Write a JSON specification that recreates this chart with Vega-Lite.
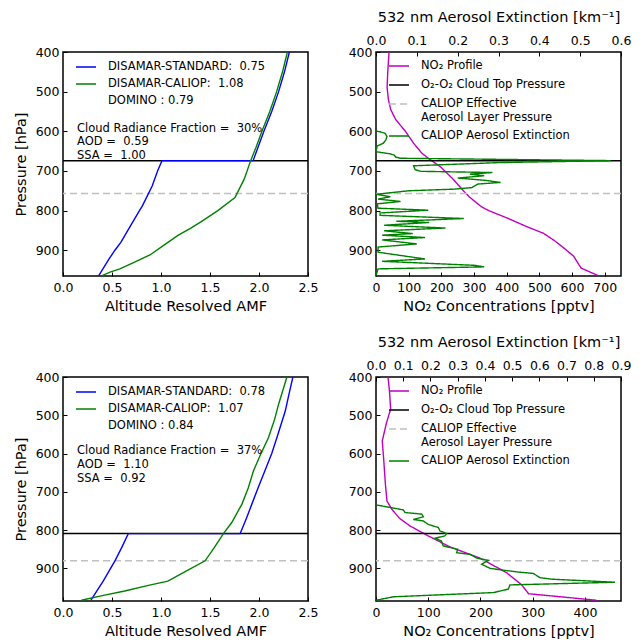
{
  "$schema": "https://vega.github.io/schema/vega-lite/v6.json",
  "background": "white",
  "padding": {"left": 12, "top": 8, "right": 5, "bottom": 5},
  "config": {
    "font": "DejaVu Sans",
    "view": {"stroke": "black", "strokeWidth": 1.5},
    "axis": {"domain": false, "grid": false, "ticks": true, "tickColor": "black", "tickSize": -4, "tickWidth": 1, "labelColor": "black", "labelFontSize": 12.5, "titleFontSize": 14.5, "titleFontWeight": "normal", "titleColor": "black", "labelFlush": false, "labelOverlap": false},
    "axisX": {"labelPadding": 9, "titlePadding": 6},
    "axisY": {"labelPadding": 8, "titlePadding": 7},
    "legend": {"labelFontSize": 11.5, "labelColor": "black", "symbolType": "M-1,0H3", "symbolSize": 100, "symbolStrokeWidth": 1.5, "labelOffset": 21, "rowPadding": 5, "padding": 0, "labelLimit": 300}
  },
  "datasets": {
    "tl": [
      {"series": "DISAMAR-STANDARD: \u00a00.75", "p": 964, "amf": 0.365},
      {"series": "DISAMAR-STANDARD: \u00a00.75", "p": 922, "amf": 0.47},
      {"series": "DISAMAR-STANDARD: \u00a00.75", "p": 900, "amf": 0.53},
      {"series": "DISAMAR-STANDARD: \u00a00.75", "p": 880, "amf": 0.59},
      {"series": "DISAMAR-STANDARD: \u00a00.75", "p": 838, "amf": 0.69},
      {"series": "DISAMAR-STANDARD: \u00a00.75", "p": 800, "amf": 0.78},
      {"series": "DISAMAR-STANDARD: \u00a00.75", "p": 788, "amf": 0.81},
      {"series": "DISAMAR-STANDARD: \u00a00.75", "p": 738, "amf": 0.91},
      {"series": "DISAMAR-STANDARD: \u00a00.75", "p": 700, "amf": 0.965},
      {"series": "DISAMAR-STANDARD: \u00a00.75", "p": 674, "amf": 1.01},
      {"series": "DISAMAR-STANDARD: \u00a00.75", "p": 674, "amf": 1.94},
      {"series": "DISAMAR-STANDARD: \u00a00.75", "p": 640, "amf": 1.99},
      {"series": "DISAMAR-STANDARD: \u00a00.75", "p": 600, "amf": 2.05},
      {"series": "DISAMAR-STANDARD: \u00a00.75", "p": 550, "amf": 2.13},
      {"series": "DISAMAR-STANDARD: \u00a00.75", "p": 500, "amf": 2.2},
      {"series": "DISAMAR-STANDARD: \u00a00.75", "p": 450, "amf": 2.26},
      {"series": "DISAMAR-STANDARD: \u00a00.75", "p": 400, "amf": 2.31},
      {"series": "DISAMAR-CALIOP: \u00a01.08", "p": 964, "amf": 0.4},
      {"series": "DISAMAR-CALIOP: \u00a01.08", "p": 955, "amf": 0.48},
      {"series": "DISAMAR-CALIOP: \u00a01.08", "p": 947, "amf": 0.58},
      {"series": "DISAMAR-CALIOP: \u00a01.08", "p": 930, "amf": 0.73},
      {"series": "DISAMAR-CALIOP: \u00a01.08", "p": 912, "amf": 0.887},
      {"series": "DISAMAR-CALIOP: \u00a01.08", "p": 887, "amf": 1.03},
      {"series": "DISAMAR-CALIOP: \u00a01.08", "p": 862, "amf": 1.177},
      {"series": "DISAMAR-CALIOP: \u00a01.08", "p": 845, "amf": 1.3},
      {"series": "DISAMAR-CALIOP: \u00a01.08", "p": 827, "amf": 1.415},
      {"series": "DISAMAR-CALIOP: \u00a01.08", "p": 800, "amf": 1.58},
      {"series": "DISAMAR-CALIOP: \u00a01.08", "p": 767, "amf": 1.755},
      {"series": "DISAMAR-CALIOP: \u00a01.08", "p": 720, "amf": 1.85},
      {"series": "DISAMAR-CALIOP: \u00a01.08", "p": 674, "amf": 1.915},
      {"series": "DISAMAR-CALIOP: \u00a01.08", "p": 640, "amf": 1.97},
      {"series": "DISAMAR-CALIOP: \u00a01.08", "p": 600, "amf": 2.03},
      {"series": "DISAMAR-CALIOP: \u00a01.08", "p": 550, "amf": 2.11},
      {"series": "DISAMAR-CALIOP: \u00a01.08", "p": 500, "amf": 2.18},
      {"series": "DISAMAR-CALIOP: \u00a01.08", "p": 450, "amf": 2.24},
      {"series": "DISAMAR-CALIOP: \u00a01.08", "p": 400, "amf": 2.29}
    ],
    "bl": [
      {"series": "DISAMAR-STANDARD: \u00a00.78", "p": 983, "amf": 0.285},
      {"series": "DISAMAR-STANDARD: \u00a00.78", "p": 933, "amf": 0.41},
      {"series": "DISAMAR-STANDARD: \u00a00.78", "p": 880, "amf": 0.53},
      {"series": "DISAMAR-STANDARD: \u00a00.78", "p": 845, "amf": 0.6},
      {"series": "DISAMAR-STANDARD: \u00a00.78", "p": 809, "amf": 0.666},
      {"series": "DISAMAR-STANDARD: \u00a00.78", "p": 809, "amf": 1.808},
      {"series": "DISAMAR-STANDARD: \u00a00.78", "p": 770, "amf": 1.87},
      {"series": "DISAMAR-STANDARD: \u00a00.78", "p": 732, "amf": 1.927},
      {"series": "DISAMAR-STANDARD: \u00a00.78", "p": 690, "amf": 1.99},
      {"series": "DISAMAR-STANDARD: \u00a00.78", "p": 654, "amf": 2.046},
      {"series": "DISAMAR-STANDARD: \u00a00.78", "p": 600, "amf": 2.13},
      {"series": "DISAMAR-STANDARD: \u00a00.78", "p": 558, "amf": 2.183},
      {"series": "DISAMAR-STANDARD: \u00a00.78", "p": 489, "amf": 2.268},
      {"series": "DISAMAR-STANDARD: \u00a00.78", "p": 440, "amf": 2.31},
      {"series": "DISAMAR-STANDARD: \u00a00.78", "p": 400, "amf": 2.346},
      {"series": "DISAMAR-CALIOP: \u00a01.07", "p": 983, "amf": 0.188},
      {"series": "DISAMAR-CALIOP: \u00a01.07", "p": 971, "amf": 0.4},
      {"series": "DISAMAR-CALIOP: \u00a01.07", "p": 959, "amf": 0.63},
      {"series": "DISAMAR-CALIOP: \u00a01.07", "p": 945, "amf": 0.86},
      {"series": "DISAMAR-CALIOP: \u00a01.07", "p": 933, "amf": 1.07},
      {"series": "DISAMAR-CALIOP: \u00a01.07", "p": 905, "amf": 1.27},
      {"series": "DISAMAR-CALIOP: \u00a01.07", "p": 880, "amf": 1.45},
      {"series": "DISAMAR-CALIOP: \u00a01.07", "p": 845, "amf": 1.545},
      {"series": "DISAMAR-CALIOP: \u00a01.07", "p": 809, "amf": 1.637},
      {"series": "DISAMAR-CALIOP: \u00a01.07", "p": 780, "amf": 1.722},
      {"series": "DISAMAR-CALIOP: \u00a01.07", "p": 732, "amf": 1.826},
      {"series": "DISAMAR-CALIOP: \u00a01.07", "p": 690, "amf": 1.89},
      {"series": "DISAMAR-CALIOP: \u00a01.07", "p": 645, "amf": 1.944},
      {"series": "DISAMAR-CALIOP: \u00a01.07", "p": 600, "amf": 2.02},
      {"series": "DISAMAR-CALIOP: \u00a01.07", "p": 558, "amf": 2.097},
      {"series": "DISAMAR-CALIOP: \u00a01.07", "p": 510, "amf": 2.16},
      {"series": "DISAMAR-CALIOP: \u00a01.07", "p": 471, "amf": 2.2},
      {"series": "DISAMAR-CALIOP: \u00a01.07", "p": 400, "amf": 2.285}
    ],
    "tr_no2": [
      {"series": "NO₂ Profile", "p": 400, "no2": 40}, {"series": "NO₂ Profile", "p": 450, "no2": 36},
      {"series": "NO₂ Profile", "p": 490, "no2": 34}, {"series": "NO₂ Profile", "p": 520, "no2": 38},
      {"series": "NO₂ Profile", "p": 545, "no2": 45}, {"series": "NO₂ Profile", "p": 570, "no2": 60},
      {"series": "NO₂ Profile", "p": 600, "no2": 90}, {"series": "NO₂ Profile", "p": 630, "no2": 115},
      {"series": "NO₂ Profile", "p": 655, "no2": 140}, {"series": "NO₂ Profile", "p": 670, "no2": 163},
      {"series": "NO₂ Profile", "p": 690, "no2": 198}, {"series": "NO₂ Profile", "p": 720, "no2": 235},
      {"series": "NO₂ Profile", "p": 745, "no2": 262}, {"series": "NO₂ Profile", "p": 765, "no2": 285},
      {"series": "NO₂ Profile", "p": 790, "no2": 322}, {"series": "NO₂ Profile", "p": 800, "no2": 345},
      {"series": "NO₂ Profile", "p": 820, "no2": 405}, {"series": "NO₂ Profile", "p": 840, "no2": 460},
      {"series": "NO₂ Profile", "p": 857, "no2": 512}, {"series": "NO₂ Profile", "p": 875, "no2": 545},
      {"series": "NO₂ Profile", "p": 893, "no2": 573}, {"series": "NO₂ Profile", "p": 915, "no2": 605},
      {"series": "NO₂ Profile", "p": 935, "no2": 620}, {"series": "NO₂ Profile", "p": 945, "no2": 628},
      {"series": "NO₂ Profile", "p": 964, "no2": 680}
    ],
    "tr_ext": [
      {"p": 599, "ext": 0}, {"p": 605, "ext": 0.022}, {"p": 613, "ext": 0.027}, {"p": 622, "ext": 0.024},
      {"p": 630, "ext": 0.018}, {"p": 637, "ext": 0.003}, {"p": 650, "ext": 0}, {"p": 652, "ext": 0.003},
      {"p": 657, "ext": 0.035}, {"p": 660, "ext": 0.045}, {"p": 665, "ext": 0.048}, {"p": 668, "ext": 0.06},
      {"p": 674, "ext": 0.575}, {"p": 679, "ext": 0.3}, {"p": 687, "ext": 0.092}, {"p": 697, "ext": 0.096},
      {"p": 701, "ext": 0.11}, {"p": 704, "ext": 0.285}, {"p": 708, "ext": 0.23}, {"p": 712, "ext": 0.265},
      {"p": 718, "ext": 0.2}, {"p": 724, "ext": 0.27}, {"p": 729, "ext": 0.305}, {"p": 733, "ext": 0.25},
      {"p": 742, "ext": 0.235}, {"p": 746, "ext": 0.19}, {"p": 750, "ext": 0.08}, {"p": 759, "ext": 0},
      {"p": 765, "ext": 0.035}, {"p": 771, "ext": 0.005}, {"p": 777, "ext": 0.06}, {"p": 783, "ext": 0.003},
      {"p": 794, "ext": 0.005}, {"p": 799, "ext": 0.128}, {"p": 806, "ext": 0.01}, {"p": 812, "ext": 0.01},
      {"p": 820, "ext": 0.215}, {"p": 827, "ext": 0.05}, {"p": 830, "ext": 0.13}, {"p": 837, "ext": 0.02},
      {"p": 844, "ext": 0.17}, {"p": 851, "ext": 0.02}, {"p": 858, "ext": 0.09}, {"p": 862, "ext": 0.015},
      {"p": 868, "ext": 0.12}, {"p": 874, "ext": 0.015}, {"p": 884, "ext": 0.1}, {"p": 892, "ext": 0.005},
      {"p": 905, "ext": 0.005}, {"p": 922, "ext": 0.12}, {"p": 928, "ext": 0.015}, {"p": 938, "ext": 0.24},
      {"p": 942, "ext": 0.265}, {"p": 947, "ext": 0.005}, {"p": 964, "ext": 0}
    ],
    "br_no2": [
      {"series": "NO₂ Profile", "p": 400, "no2": 23}, {"series": "NO₂ Profile", "p": 440, "no2": 26},
      {"series": "NO₂ Profile", "p": 484, "no2": 28}, {"series": "NO₂ Profile", "p": 520, "no2": 20},
      {"series": "NO₂ Profile", "p": 567, "no2": 12}, {"series": "NO₂ Profile", "p": 620, "no2": 15},
      {"series": "NO₂ Profile", "p": 680, "no2": 18}, {"series": "NO₂ Profile", "p": 724, "no2": 21},
      {"series": "NO₂ Profile", "p": 745, "no2": 30}, {"series": "NO₂ Profile", "p": 769, "no2": 45},
      {"series": "NO₂ Profile", "p": 789, "no2": 65}, {"series": "NO₂ Profile", "p": 815, "no2": 100},
      {"series": "NO₂ Profile", "p": 844, "no2": 142}, {"series": "NO₂ Profile", "p": 873, "no2": 199},
      {"series": "NO₂ Profile", "p": 911, "no2": 250}, {"series": "NO₂ Profile", "p": 943, "no2": 279},
      {"series": "NO₂ Profile", "p": 966, "no2": 292}, {"series": "NO₂ Profile", "p": 983, "no2": 422}
    ],
    "br_ext": [
      {"p": 734, "ext": 0}, {"p": 747, "ext": 0.1}, {"p": 754, "ext": 0.107}, {"p": 758, "ext": 0.168},
      {"p": 765, "ext": 0.174}, {"p": 772, "ext": 0.137}, {"p": 776, "ext": 0.174}, {"p": 785, "ext": 0.192},
      {"p": 793, "ext": 0.229}, {"p": 802, "ext": 0.235}, {"p": 809, "ext": 0.26}, {"p": 815, "ext": 0.253},
      {"p": 821, "ext": 0.217}, {"p": 828, "ext": 0.24}, {"p": 841, "ext": 0.247}, {"p": 850, "ext": 0.3},
      {"p": 859, "ext": 0.296}, {"p": 863, "ext": 0.345}, {"p": 873, "ext": 0.37}, {"p": 879, "ext": 0.413},
      {"p": 889, "ext": 0.388}, {"p": 900, "ext": 0.42}, {"p": 909, "ext": 0.517}, {"p": 913, "ext": 0.578},
      {"p": 924, "ext": 0.602}, {"p": 928, "ext": 0.645}, {"p": 936, "ext": 0.878}, {"p": 943, "ext": 0.492},
      {"p": 954, "ext": 0.486}, {"p": 963, "ext": 0.431}, {"p": 974, "ext": 0.064}, {"p": 983, "ext": 0}
    ],
    "tr_lines": [
      {"p": 674, "series": "O₂-O₂ Cloud Top Pressure"},
      {"p": 757, "series": "CALIOP Effective|Aerosol Layer Pressure"}
    ],
    "br_lines": [
      {"p": 809, "series": "O₂-O₂ Cloud Top Pressure"},
      {"p": 880, "series": "CALIOP Effective|Aerosol Layer Pressure"}
    ],
    "tl_notes": [{"text": ["Cloud Radiance Fraction = \u00a030%", "AOD = \u00a00.59", "SSA = \u00a01.00"]}],
    "bl_notes": [{"text": ["Cloud Radiance Fraction = \u00a037%", "AOD = \u00a01.10", "SSA = \u00a00.92"]}]
  },
  "columns": 2,
  "bounds": "flush",
  "spacing": {"row": 101, "column": 68},
  "resolve": {"scale": {"x": "independent", "y": "independent", "color": "independent", "strokeDash": "independent"}, "axis": {"x": "independent", "y": "independent"}, "legend": {"color": "independent", "strokeDash": "independent"}},
  "concat": [
    {
      "width": 245, "height": 224,
      "layer": [
        {
          "data": {"values": [{"p": 674}]},
          "mark": {"type": "rule", "color": "black", "strokeWidth": 1.5},
          "encoding": {
            "y": {"field": "p", "type": "quantitative", "scale": {"domain": [400, 965], "reverse": true, "nice": false, "zero": false}, "axis": {"values": [400, 500, 600, 700, 800, 900], "title": "Pressure [hPa]"}}
          }
        },
        {
          "data": {"values": [{"p": 757}]},
          "mark": {"type": "rule", "color": "#c0c0c0", "strokeWidth": 1.5, "strokeDash": [7, 4]},
          "encoding": {
            "y": {"field": "p", "type": "quantitative", "scale": {"domain": [400, 965], "reverse": true, "nice": false, "zero": false}, "axis": {"values": [400, 500, 600, 700, 800, 900], "title": "Pressure [hPa]"}}
          }
        },
        {
          "data": {"name": "tl"},
          "mark": {"type": "line", "strokeWidth": 1.4},
          "encoding": {
            "x": {"field": "amf", "type": "quantitative", "scale": {"domain": [0, 2.5], "nice": false, "zero": false}, "axis": {"values": [0, 0.5, 1, 1.5, 2, 2.5], "format": ".1f", "title": "Altitude Resolved AMF"}},
            "y": {"field": "p", "type": "quantitative", "scale": {"domain": [400, 965], "reverse": true, "nice": false, "zero": false}, "axis": {"values": [400, 500, 600, 700, 800, 900], "title": "Pressure [hPa]"}},
            "color": {"field": "series", "type": "nominal", "scale": {"domain": ["DISAMAR-STANDARD: \u00a00.75", "DISAMAR-CALIOP: \u00a01.08", "DOMINO : 0.79"], "range": ["#0000ff", "#008000", "rgba(0,0,0,0)"]}, "legend": {"title": null, "orient": "none", "legendX": 12, "legendY": 9}}
          }
        },
        {
          "data": {"name": "tl_notes"},
          "mark": {"type": "text", "align": "left", "baseline": "alphabetic", "fontSize": 11.5, "lineHeight": 13.8, "color": "black"},
          "encoding": {
            "x": {"datum": 0.143, "type": "quantitative", "scale": {"domain": [0, 2.5], "nice": false, "zero": false}, "axis": {"values": [0, 0.5, 1, 1.5, 2, 2.5], "format": ".1f", "title": "Altitude Resolved AMF"}},
            "y": {"datum": 601, "type": "quantitative", "scale": {"domain": [400, 965], "reverse": true, "nice": false, "zero": false}, "axis": {"values": [400, 500, 600, 700, 800, 900], "title": "Pressure [hPa]"}},
            "text": {"field": "text"}
          }
        }
      ]
    },
    {
      "width": 245, "height": 224,
      "resolve": {"scale": {"x": "independent"}, "axis": {"x": "independent"}},
      "layer": [
        {
          "data": {"name": "tr_no2"},
          "mark": {"type": "line", "strokeWidth": 1.4},
          "encoding": {
            "x": {"field": "no2", "type": "quantitative", "scale": {"domain": [0, 750], "nice": false, "zero": false}, "axis": {"values": [0, 100, 200, 300, 400, 500, 600, 700], "title": "NO₂ Concentrations [pptv]"}},
            "y": {"field": "p", "type": "quantitative", "scale": {"domain": [400, 965], "reverse": true, "nice": false, "zero": false}, "axis": {"values": [400, 500, 600, 700, 800, 900], "title": null}},
            "order": {"field": "p", "type": "quantitative"},
            "color": {"field": "series", "type": "nominal", "scale": {"domain": ["NO₂ Profile", "O₂-O₂ Cloud Top Pressure", "CALIOP Effective|Aerosol Layer Pressure", "CALIOP Aerosol Extinction"], "range": ["#bf00bf", "#000000", "#c0c0c0", "#008000"]}, "legend": {"title": null, "orient": "none", "legendX": 12, "legendY": 8, "labelExpr": "split(datum.label, '|')", "rowPadding": 7}},
            "strokeDash": {"field": "series", "type": "nominal", "scale": {"domain": ["NO₂ Profile", "O₂-O₂ Cloud Top Pressure", "CALIOP Effective|Aerosol Layer Pressure", "CALIOP Aerosol Extinction"], "range": [[1, 0], [1, 0], [7, 4], [1, 0]]}, "legend": {"title": null, "orient": "none", "legendX": 12, "legendY": 8, "labelExpr": "split(datum.label, '|')", "rowPadding": 7}}
          }
        },
        {
          "data": {"name": "tr_lines"},
          "mark": {"type": "rule", "strokeWidth": 1.5},
          "encoding": {
            "y": {"field": "p", "type": "quantitative", "scale": {"domain": [400, 965], "reverse": true, "nice": false, "zero": false}, "axis": {"values": [400, 500, 600, 700, 800, 900], "title": null}},
            "color": {"field": "series", "type": "nominal", "scale": {"domain": ["NO₂ Profile", "O₂-O₂ Cloud Top Pressure", "CALIOP Effective|Aerosol Layer Pressure", "CALIOP Aerosol Extinction"], "range": ["#bf00bf", "#000000", "#c0c0c0", "#008000"]}, "legend": {"title": null, "orient": "none", "legendX": 12, "legendY": 8, "labelExpr": "split(datum.label, '|')", "rowPadding": 7}},
            "strokeDash": {"field": "series", "type": "nominal", "scale": {"domain": ["NO₂ Profile", "O₂-O₂ Cloud Top Pressure", "CALIOP Effective|Aerosol Layer Pressure", "CALIOP Aerosol Extinction"], "range": [[1, 0], [1, 0], [7, 4], [1, 0]]}, "legend": {"title": null, "orient": "none", "legendX": 12, "legendY": 8, "labelExpr": "split(datum.label, '|')", "rowPadding": 7}}
          }
        },
        {
          "data": {"name": "tr_ext"},
          "transform": [{"calculate": "'CALIOP Aerosol Extinction'", "as": "series"}],
          "mark": {"type": "line", "strokeWidth": 1.4},
          "encoding": {
            "x": {"field": "ext", "type": "quantitative", "scale": {"domain": [0, 0.6], "nice": false, "zero": false}, "axis": {"orient": "top", "values": [0, 0.1, 0.2, 0.3, 0.4, 0.5, 0.6], "format": ".1f", "titlePadding": 10, "title": "532 nm Aerosol Extinction [km⁻¹]"}},
            "y": {"field": "p", "type": "quantitative", "scale": {"domain": [400, 965], "reverse": true, "nice": false, "zero": false}, "axis": {"values": [400, 500, 600, 700, 800, 900], "title": null}},
            "order": {"field": "p", "type": "quantitative"},
            "color": {"field": "series", "type": "nominal", "scale": {"domain": ["NO₂ Profile", "O₂-O₂ Cloud Top Pressure", "CALIOP Effective|Aerosol Layer Pressure", "CALIOP Aerosol Extinction"], "range": ["#bf00bf", "#000000", "#c0c0c0", "#008000"]}, "legend": {"title": null, "orient": "none", "legendX": 12, "legendY": 8, "labelExpr": "split(datum.label, '|')", "rowPadding": 7}},
            "strokeDash": {"field": "series", "type": "nominal", "scale": {"domain": ["NO₂ Profile", "O₂-O₂ Cloud Top Pressure", "CALIOP Effective|Aerosol Layer Pressure", "CALIOP Aerosol Extinction"], "range": [[1, 0], [1, 0], [7, 4], [1, 0]]}, "legend": {"title": null, "orient": "none", "legendX": 12, "legendY": 8, "labelExpr": "split(datum.label, '|')", "rowPadding": 7}}
          }
        }
      ]
    },
    {
      "width": 245, "height": 224,
      "layer": [
        {
          "data": {"values": [{"p": 809}]},
          "mark": {"type": "rule", "color": "black", "strokeWidth": 1.5},
          "encoding": {
            "y": {"field": "p", "type": "quantitative", "scale": {"domain": [400, 985], "reverse": true, "nice": false, "zero": false}, "axis": {"values": [400, 500, 600, 700, 800, 900], "title": "Pressure [hPa]"}}
          }
        },
        {
          "data": {"values": [{"p": 880}]},
          "mark": {"type": "rule", "color": "#c0c0c0", "strokeWidth": 1.5, "strokeDash": [7, 4]},
          "encoding": {
            "y": {"field": "p", "type": "quantitative", "scale": {"domain": [400, 985], "reverse": true, "nice": false, "zero": false}, "axis": {"values": [400, 500, 600, 700, 800, 900], "title": "Pressure [hPa]"}}
          }
        },
        {
          "data": {"name": "bl"},
          "mark": {"type": "line", "strokeWidth": 1.4},
          "encoding": {
            "x": {"field": "amf", "type": "quantitative", "scale": {"domain": [0, 2.5], "nice": false, "zero": false}, "axis": {"values": [0, 0.5, 1, 1.5, 2, 2.5], "format": ".1f", "title": "Altitude Resolved AMF"}},
            "y": {"field": "p", "type": "quantitative", "scale": {"domain": [400, 985], "reverse": true, "nice": false, "zero": false}, "axis": {"values": [400, 500, 600, 700, 800, 900], "title": "Pressure [hPa]"}},
            "color": {"field": "series", "type": "nominal", "scale": {"domain": ["DISAMAR-STANDARD: \u00a00.78", "DISAMAR-CALIOP: \u00a01.07", "DOMINO : 0.84"], "range": ["#0000ff", "#008000", "rgba(0,0,0,0)"]}, "legend": {"title": null, "orient": "none", "legendX": 12, "legendY": 9}}
          }
        },
        {
          "data": {"name": "bl_notes"},
          "mark": {"type": "text", "align": "left", "baseline": "alphabetic", "fontSize": 11.5, "lineHeight": 13.8, "color": "black"},
          "encoding": {
            "x": {"datum": 0.143, "type": "quantitative", "scale": {"domain": [0, 2.5], "nice": false, "zero": false}, "axis": {"values": [0, 0.5, 1, 1.5, 2, 2.5], "format": ".1f", "title": "Altitude Resolved AMF"}},
            "y": {"datum": 602, "type": "quantitative", "scale": {"domain": [400, 985], "reverse": true, "nice": false, "zero": false}, "axis": {"values": [400, 500, 600, 700, 800, 900], "title": "Pressure [hPa]"}},
            "text": {"field": "text"}
          }
        }
      ]
    },
    {
      "width": 245, "height": 224,
      "resolve": {"scale": {"x": "independent"}, "axis": {"x": "independent"}},
      "layer": [
        {
          "data": {"name": "br_no2"},
          "mark": {"type": "line", "strokeWidth": 1.4},
          "encoding": {
            "x": {"field": "no2", "type": "quantitative", "scale": {"domain": [0, 469], "nice": false, "zero": false}, "axis": {"values": [0, 100, 200, 300, 400], "title": "NO₂ Concentrations [pptv]"}},
            "y": {"field": "p", "type": "quantitative", "scale": {"domain": [400, 985], "reverse": true, "nice": false, "zero": false}, "axis": {"values": [400, 500, 600, 700, 800, 900], "title": null}},
            "order": {"field": "p", "type": "quantitative"},
            "color": {"field": "series", "type": "nominal", "scale": {"domain": ["NO₂ Profile", "O₂-O₂ Cloud Top Pressure", "CALIOP Effective|Aerosol Layer Pressure", "CALIOP Aerosol Extinction"], "range": ["#bf00bf", "#000000", "#c0c0c0", "#008000"]}, "legend": {"title": null, "orient": "none", "legendX": 12, "legendY": 8, "labelExpr": "split(datum.label, '|')", "rowPadding": 7}},
            "strokeDash": {"field": "series", "type": "nominal", "scale": {"domain": ["NO₂ Profile", "O₂-O₂ Cloud Top Pressure", "CALIOP Effective|Aerosol Layer Pressure", "CALIOP Aerosol Extinction"], "range": [[1, 0], [1, 0], [7, 4], [1, 0]]}, "legend": {"title": null, "orient": "none", "legendX": 12, "legendY": 8, "labelExpr": "split(datum.label, '|')", "rowPadding": 7}}
          }
        },
        {
          "data": {"name": "br_lines"},
          "mark": {"type": "rule", "strokeWidth": 1.5},
          "encoding": {
            "y": {"field": "p", "type": "quantitative", "scale": {"domain": [400, 985], "reverse": true, "nice": false, "zero": false}, "axis": {"values": [400, 500, 600, 700, 800, 900], "title": null}},
            "color": {"field": "series", "type": "nominal", "scale": {"domain": ["NO₂ Profile", "O₂-O₂ Cloud Top Pressure", "CALIOP Effective|Aerosol Layer Pressure", "CALIOP Aerosol Extinction"], "range": ["#bf00bf", "#000000", "#c0c0c0", "#008000"]}, "legend": {"title": null, "orient": "none", "legendX": 12, "legendY": 8, "labelExpr": "split(datum.label, '|')", "rowPadding": 7}},
            "strokeDash": {"field": "series", "type": "nominal", "scale": {"domain": ["NO₂ Profile", "O₂-O₂ Cloud Top Pressure", "CALIOP Effective|Aerosol Layer Pressure", "CALIOP Aerosol Extinction"], "range": [[1, 0], [1, 0], [7, 4], [1, 0]]}, "legend": {"title": null, "orient": "none", "legendX": 12, "legendY": 8, "labelExpr": "split(datum.label, '|')", "rowPadding": 7}}
          }
        },
        {
          "data": {"name": "br_ext"},
          "transform": [{"calculate": "'CALIOP Aerosol Extinction'", "as": "series"}],
          "mark": {"type": "line", "strokeWidth": 1.4},
          "encoding": {
            "x": {"field": "ext", "type": "quantitative", "scale": {"domain": [0, 0.9], "nice": false, "zero": false}, "axis": {"orient": "top", "values": [0, 0.1, 0.2, 0.3, 0.4, 0.5, 0.6, 0.7, 0.8, 0.9], "format": ".1f", "titlePadding": 10, "title": "532 nm Aerosol Extinction [km⁻¹]"}},
            "y": {"field": "p", "type": "quantitative", "scale": {"domain": [400, 985], "reverse": true, "nice": false, "zero": false}, "axis": {"values": [400, 500, 600, 700, 800, 900], "title": null}},
            "order": {"field": "p", "type": "quantitative"},
            "color": {"field": "series", "type": "nominal", "scale": {"domain": ["NO₂ Profile", "O₂-O₂ Cloud Top Pressure", "CALIOP Effective|Aerosol Layer Pressure", "CALIOP Aerosol Extinction"], "range": ["#bf00bf", "#000000", "#c0c0c0", "#008000"]}, "legend": {"title": null, "orient": "none", "legendX": 12, "legendY": 8, "labelExpr": "split(datum.label, '|')", "rowPadding": 7}},
            "strokeDash": {"field": "series", "type": "nominal", "scale": {"domain": ["NO₂ Profile", "O₂-O₂ Cloud Top Pressure", "CALIOP Effective|Aerosol Layer Pressure", "CALIOP Aerosol Extinction"], "range": [[1, 0], [1, 0], [7, 4], [1, 0]]}, "legend": {"title": null, "orient": "none", "legendX": 12, "legendY": 8, "labelExpr": "split(datum.label, '|')", "rowPadding": 7}}
          }
        }
      ]
    }
  ]
}
